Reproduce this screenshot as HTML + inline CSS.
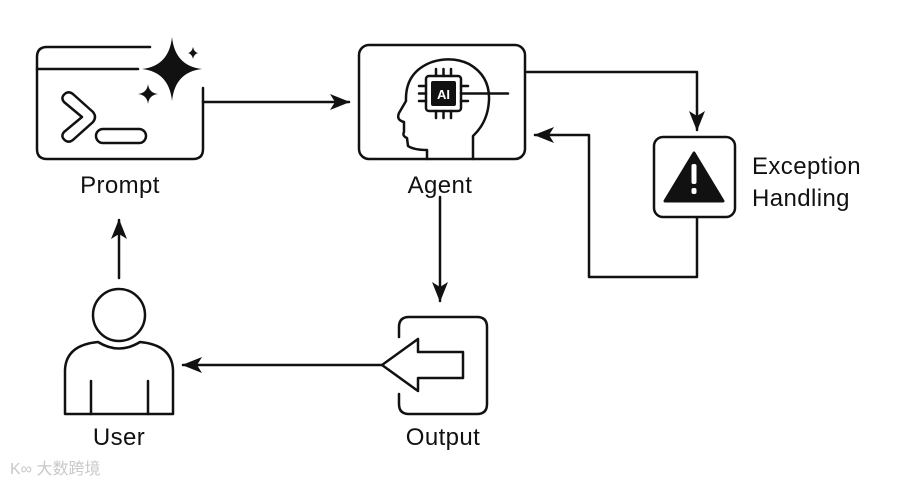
<!DOCTYPE html>
<html><head><meta charset="utf-8"><style>
html,body{margin:0;padding:0;background:#fff;}
svg{display:block}
text{font-family:"Liberation Sans",Arial,sans-serif;fill:#111}
.lb{font-size:24px;letter-spacing:0.4px}
</style></head><body>
<svg width="904" height="486" viewBox="0 0 904 486" xmlns="http://www.w3.org/2000/svg">
<defs>
<marker id="ah2" viewBox="0 0 20 16" markerWidth="20" markerHeight="16" refX="19" refY="8" orient="auto" markerUnits="userSpaceOnUse">
<path d="M0,0 L20,8 L0,16 L5,8 Z" fill="#111"/>
</marker>
</defs>
<g fill="none" stroke="#111" stroke-width="2.5" stroke-linecap="round" stroke-linejoin="round">
<path d="M150,47 L47,47 Q37,47 37,57 L37,149 Q37,159 47,159 L193,159 Q203,159 203,149 L203,88"/>
<line x1="37" y1="69" x2="138" y2="69"/>
<path d="M66,93 Q60,97 64,102 L82,117 L64,132 Q60,137 66,141 Q70,143 74,139 L93,122 Q97,117 93,112 L74,95 Q70,91 66,93 Z"/>
<rect x="96" y="129" width="50" height="14" rx="7"/>
<rect x="359" y="45" width="166" height="114" rx="10"/>
<path d="M427,159 L427,150 Q414,150 408,146 L407,138 Q402,136 404,132 L404,122 Q396,120 399,113 L406,101 Q405,72 432,62 Q452,56 469,64 Q490,76 489,100 Q488,122 473,136 L473,159"/>
<rect x="426" y="76" width="35" height="35" rx="3"/>
<path d="M436,76 V69 M443.5,76 V69 M451,76 V69 M436,111 V118 M443.5,111 V118 M451,111 V118 M426,86 H419 M426,93.5 H419 M426,101 H419 M461,86 H468 M461,101 H468 M461,93.5 H508"/>
<path d="M399,337 L399,327 Q399,317 409,317 L477,317 Q487,317 487,327 L487,404 Q487,414 477,414 L409,414 Q399,414 399,404 L399,394"/>
<path d="M382,365 L418,339 L418,352 L463,352 L463,378 L418,378 L418,391 Z"/>
<rect x="654" y="137" width="81" height="80" rx="9"/>
<circle cx="119" cy="315" r="26"/>
<path d="M65,414 L65,370 Q66,345 98,342 Q119,355 140,342 Q172,345 173,370 L173,414 Z"/>
<path d="M91,414 V381 M148,414 V381"/>
<line x1="203" y1="102" x2="349" y2="102" marker-end="url(#ah2)"/>
<polyline points="527,72 697,72 697,130" marker-end="url(#ah2)"/>
<polyline points="697,218 697,277 589,277 589,135 535,135" marker-end="url(#ah2)"/>
<line x1="440" y1="197" x2="440" y2="301" marker-end="url(#ah2)"/>
<line x1="382" y1="365" x2="183" y2="365" marker-end="url(#ah2)"/>
<line x1="119" y1="278" x2="119" y2="220" marker-end="url(#ah2)"/>
</g>
<path d="M172,37 Q175,66 202,69 Q175,72 172,101 Q169,72 142,69 Q169,66 172,37 Z" fill="#111"/>
<path d="M193,47 Q194,52 198,53 Q194,54 193,59 Q192,54 188,53 Q192,52 193,47 Z" fill="#111"/>
<path d="M148,84 Q149,93 158,94 Q149,95 148,104 Q147,95 138,94 Q147,93 148,84 Z" fill="#111"/>
<rect x="431" y="81" width="25" height="25" rx="2" fill="#111"/>
<text x="443.5" y="99" font-size="13" font-weight="bold" text-anchor="middle" style="fill:#fff">AI</text>
<path d="M694,153 L723,201 L665,201 Z" fill="#111" stroke="#111" stroke-width="3" stroke-linejoin="round"/>
<rect x="691.5" y="164" width="5" height="20" rx="2" fill="#fff"/>
<rect x="691.5" y="188" width="5" height="6" rx="2" fill="#fff"/>
<text class="lb" x="120" y="193" text-anchor="middle">Prompt</text>
<text class="lb" x="440" y="193" text-anchor="middle">Agent</text>
<text class="lb" x="752" y="174">Exception</text>
<text class="lb" x="752" y="206">Handling</text>
<text class="lb" x="119" y="445" text-anchor="middle">User</text>
<text class="lb" x="443" y="445" text-anchor="middle">Output</text>
<text x="10" y="474" font-size="16" style="fill:#c8c8c8;font-family:'Liberation Sans','Noto Sans CJK SC',sans-serif">K∞ 大数跨境</text>
</svg>
</body></html>
